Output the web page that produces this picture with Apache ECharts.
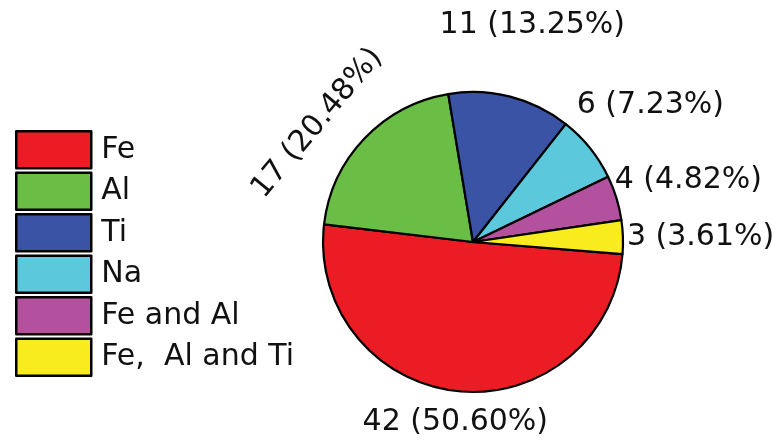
<!DOCTYPE html>
<html>
<head>
<meta charset="utf-8">
<script src="https://cdn.jsdelivr.net/npm/echarts@6/dist/echarts.min.js"></script>
<style>html,body{margin:0;padding:0;background:#fff;}#c{width:773px;height:445px;}</style>
</head>
<body>
<div id="c"></div>
<script>
const categories = ['Fe', 'Al', 'Ti', 'Na', 'Fe and Al', 'Fe,  Al and Ti'];
const counts = [42, 17, 11, 6, 4, 3];

const palette = ['#ec1c24', '#6abd45', '#3a53a4', '#5cc8dc', '#b3519f', '#f8ec1e'];
// label placement tuning (labelLine lengths, rotation) per slice
const labelTune = [
  {len: 31, len2: -98, rot: 0},
  {len: 125, len2: -108, rot: 50},
  {len: 74, len2: -94, rot: 0},
  {len: 69, len2: -72, rot: 0},
  {len: 61, len2: -65, rot: 0},
  {len: 0, len2: -1, rot: 0}
];

const total = counts.reduce((a, b) => a + b, 0);
const chart = echarts.init(document.getElementById('c'), null, {renderer: 'canvas'});
const FONT = 'DejaVu Sans';

const data = categories.map((name, i) => ({
  name: name,
  value: counts[i],
  itemStyle: {color: palette[i]},
  label: {rotate: labelTune[i].rot},
  labelLine: {show: false, length: labelTune[i].len, length2: labelTune[i].len2}
}));

chart.setOption({
  animation: false,
  backgroundColor: '#fff',
  legend: {
    orient: 'vertical',
    left: 10,
    top: 125,
    itemWidth: 75,
    itemHeight: 37,
    itemGap: 2,
    icon: 'rect',
    selectedMode: false,
    itemStyle: {borderColor: '#000', borderWidth: 2.5},
    textStyle: {fontSize: 30, fontFamily: FONT, color: '#111', lineHeight: 30, padding: [0, 0, 0, 5]},
    data: categories
  },
  series: [{
    type: 'pie',
    center: [473, 242],
    radius: 150,
    startAngle: -4.6,
    clockwise: true,
    avoidLabelOverlap: false,
    itemStyle: {borderColor: '#000', borderWidth: 2.2},
    label: {
      show: true,
      position: 'outside',
      fontSize: 30,
      fontFamily: FONT,
      color: '#111',
      formatter: p => p.value + ' (' + (p.value / total * 100).toFixed(2) + '%)'
    },
    labelLine: {show: false},
    emphasis: {disabled: true},
    data: data
  }]
});
</script>
</body>
</html>
